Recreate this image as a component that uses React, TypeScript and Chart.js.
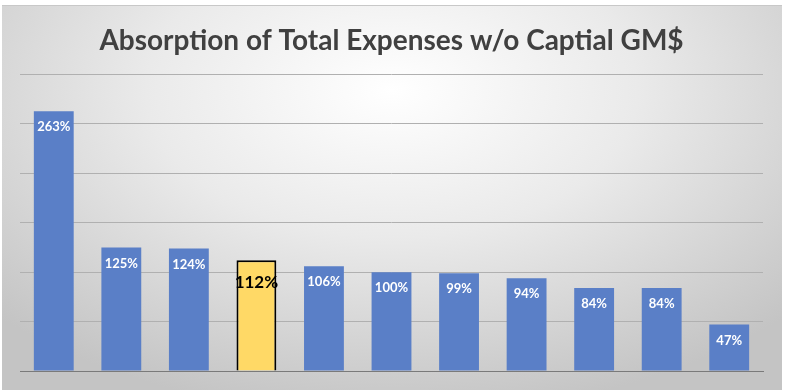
import React, { useEffect, useRef } from "react";
import { Chart, registerables } from "chart.js";

Chart.register(...registerables);

const categories = ["A", "B", "C", "D", "E", "F", "G", "H", "I", "J", "K"];
const values = [263, 125, 124, 112, 106, 100, 99, 94, 84, 84, 47];
const highlightIndex = 3;
const yTicks = [0, 50, 100, 150, 200, 250, 300];
const titleText = "Absorption of Total Expenses w/o Captial GM$";

const BLUE = "#5a7fc7";
const YELLOW = "#ffd966";

const labelPlugin = {
  id: "barLabels",
  afterDatasetsDraw(chart: any) {
    const ctx = chart.ctx;
    const meta = chart.getDatasetMeta(0);
    ctx.save();
    ctx.textAlign = "center";
    ctx.textBaseline = "middle";
    meta.data.forEach((bar: any, i: number) => {
      const v = values[i];
      const text = v + "%";
      if (i === highlightIndex) {
        ctx.fillStyle = "#000000";
        ctx.font = "bold 17px Lato";
        ctx.fillText(text, bar.x, bar.y + 22);
      } else {
        ctx.fillStyle = "#ffffff";
        ctx.font = "bold 13px Lato";
        ctx.fillText(text, bar.x, bar.y + 16);
      }
    });
    ctx.restore();
  },
};

export default function App() {
  const ref = useRef<HTMLCanvasElement | null>(null);
  useEffect(() => {
    document.body.style.margin = "0";
    if (!ref.current) return;
    const chart = new Chart(ref.current, {
      type: "bar",
      data: {
        labels: categories,
        datasets: [
          {
            data: values,
            backgroundColor: values.map((_, i) => (i === highlightIndex ? YELLOW : BLUE)),
            borderColor: values.map((_, i) => (i === highlightIndex ? "#000000" : BLUE)),
            borderWidth: values.map((_, i) => (i === highlightIndex ? 2 : 0)),
            barPercentage: 0.59,
            categoryPercentage: 1,
          },
        ],
      },
      options: {
        animation: false,
        responsive: false,
        maintainAspectRatio: false,
        layout: { padding: { left: 18, right: 19, top: 0, bottom: 19 } },
        plugins: {
          legend: { display: false },
          tooltip: { enabled: false },
          title: {
            display: true,
            text: titleText,
            color: "#404040",
            font: { family: "Lato", size: 28, weight: "bold" },
            padding: { top: 18, bottom: 17 },
          },
        },
        scales: {
          x: {
            display: true,
            ticks: { display: false },
            grid: { display: false, drawTicks: false },
            border: { display: true, color: "#7a7a7a", width: 1 },
          },
          y: {
            display: true,
            min: 0,
            max: 300,
            afterBuildTicks: (axis: any) => {
              axis.ticks = yTicks.map((v) => ({ value: v }));
            },
            ticks: { display: false },
            grid: { color: "#b0b0b0", lineWidth: 1, drawTicks: false },
            border: { display: false },
          },
        },
      },
      plugins: [labelPlugin],
    });
    return () => chart.destroy();
  }, []);

  return (
    <div style={{ position: "relative", width: 785, height: 392, background: "#ffffff", overflow: "hidden" }}>
      <div
        style={{
          position: "absolute",
          left: 2,
          top: 5,
          width: 780,
          height: 384,
          background:
            "radial-gradient(ellipse 70% 85% at 50% 22%, #ffffff 0%, #eaeaea 45%, #c4c4c4 100%)",
          borderTop: "1px solid #c8c8c8",
        }}
      >
        <canvas ref={ref} width={780} height={384} />
      </div>
    </div>
  );
}
